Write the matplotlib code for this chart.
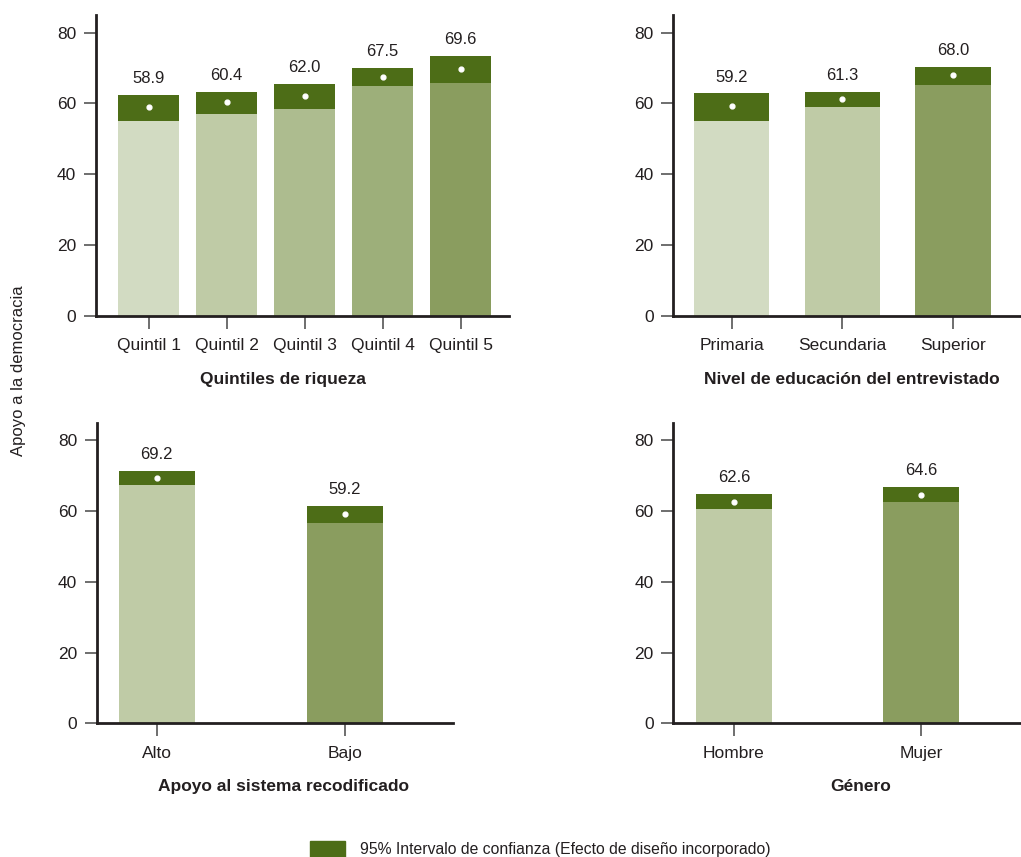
import numpy as np
import matplotlib
matplotlib.use("Agg")
import matplotlib.pyplot as plt
from matplotlib.patches import Patch

plt.rcParams['font.family'] = ['Liberation Sans', 'DejaVu Sans']

# datos
quintiles = ['Quintil 1', 'Quintil 2', 'Quintil 3', 'Quintil 4', 'Quintil 5']
quint_media = [58.9, 60.4, 62.0, 67.5, 69.6]
quint_inf = [55.1, 57.1, 58.5, 65.0, 65.8]
quint_sup = [62.5, 63.3, 65.6, 70.1, 73.5]

educacion = ['Primaria', 'Secundaria', 'Superior']
edu_media = [59.2, 61.3, 68.0]
edu_inf = [55.1, 59.1, 65.3]
edu_sup = [63.0, 63.3, 70.4]

sistema = ['Alto', 'Bajo']
sis_media = [69.2, 59.2]
sis_inf = [67.4, 56.7]
sis_sup = [71.4, 61.5]

genero = ['Hombre', 'Mujer']
gen_media = [62.6, 64.6]
gen_inf = [60.6, 62.4]
gen_sup = [64.9, 66.9]

# colores
c1, c2, c3, c4, c5 = '#d2dbc2', '#bfcba6', '#adbc8f', '#9daf7a', '#8a9d5f'
oscuro = '#4d6d17'
texto = '#231f20'

fig = plt.figure(figsize=(10.21, 8.57), dpi=100)

def panel(pos, cats, media, inf, sup, colores, ancho, xlim, titulo, xt):
    ax = fig.add_axes(pos)
    x = np.arange(len(cats))
    ax.bar(x, inf, width=ancho, color=colores)
    ax.bar(x, np.array(sup) - np.array(inf), bottom=inf, width=ancho, color=oscuro)
    ax.scatter(x, media, s=12, color='white', zorder=3)
    for xi, m, s in zip(x, media, sup):
        ax.annotate(f'{m:.1f}', (xi, s), xytext=(0, 6), textcoords='offset points',
                    ha='center', va='bottom', fontsize=12, color=texto)
    ax.set_xlim(xlim)
    ax.set_ylim(0, 85)
    ax.set_yticks([0, 20, 40, 60, 80])
    ax.set_xticks(x)
    ax.set_xticklabels(cats)
    ax.tick_params(axis='both', length=9, width=1.2, color='#555555', labelsize=12.5,
                   labelcolor=texto, pad=5)
    ax.tick_params(axis='x', pad=7)
    for lado in ['top', 'right']:
        ax.spines[lado].set_visible(False)
    for lado in ['left', 'bottom']:
        ax.spines[lado].set_linewidth(2)
        ax.spines[lado].set_color('#231f20')
    fig.text(xt, pos[1] - 0.074, titulo, ha='center', va='center', fontsize=12.5,
             fontweight='bold', color=texto)
    return ax

panel([0.0937, 0.6315, 0.4048, 0.351], quintiles, quint_media, quint_inf, quint_sup,
      [c1, c2, c3, c4, c5], 0.78, (-0.68, 4.62), 'Quintiles de riqueza', 0.277)
panel([0.6592, 0.6315, 0.3408, 0.351], educacion, edu_media, edu_inf, edu_sup,
      [c1, c2, c5], 0.68, (-0.528, 2.614), 'Nivel de educación del entrevistado', 0.834)
panel([0.0947, 0.1560, 0.3487, 0.351], sistema, sis_media, sis_inf, sis_sup,
      [c2, c5], 0.404, (-0.32, 1.573), 'Apoyo al sistema recodificado', 0.278)
panel([0.6592, 0.1560, 0.3408, 0.351], genero, gen_media, gen_inf, gen_sup,
      [c2, c5], 0.406, (-0.326, 1.535), 'Género', 0.843)

fig.text(0.018, 0.568, 'Apoyo a la democracia', rotation=90, ha='center', va='center',
         fontsize=12, color=texto)

fig.legend(handles=[Patch(color=oscuro)],
           labels=['95% Intervalo de confianza (Efecto de diseño incorporado)'],
           loc='center', bbox_to_anchor=(0.529, 0.0095), frameon=False, fontsize=11.3,
           handlelength=2.2, handleheight=1.2, handletextpad=0.95, labelcolor=texto)

fig.savefig('out.png', dpi=100)
